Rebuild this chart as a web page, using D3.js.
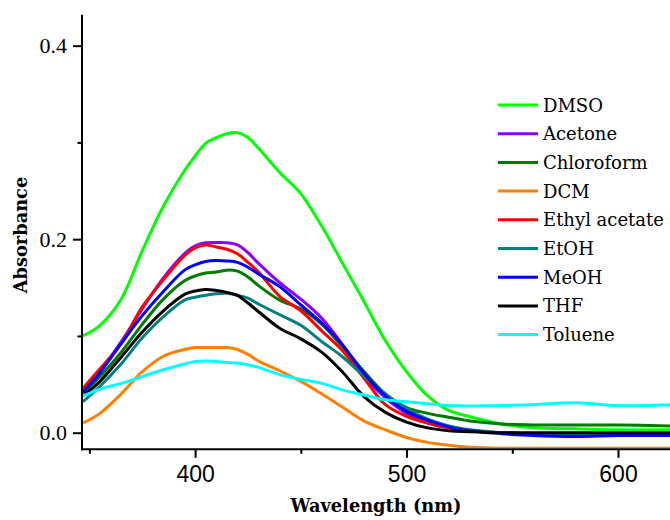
<!DOCTYPE html>
<html>
<head>
<meta charset="utf-8">
<script src="https://cdn.jsdelivr.net/npm/d3@7/dist/d3.min.js"></script>
<style>
  html, body { margin: 0; padding: 0; background: #fff; }
  svg { display: block; }
</style>
</head>
<body>
<svg id="chart" width="670" height="520"></svg>
<script>
// ---- Data ----
const wavelengths = [347, 355, 365, 375, 385, 395, 400, 405, 410, 415, 420, 425, 430, 440, 450, 460, 470, 480, 490, 500, 510, 520, 530, 545, 560, 580, 600, 625];

const solvents = ["DMSO", "Acetone", "Chloroform", "DCM", "Ethyl acetate", "EtOH", "MeOH", "THF", "Toluene"];
const colors   = ["#00ff00", "#8a00ff", "#007a00", "#ff8000", "#ff0000", "#008080", "#0000ff", "#000000", "#00ffff"];

const dmso       = [0.100, 0.111, 0.138, 0.188, 0.234, 0.271, 0.286, 0.299, 0.305, 0.309, 0.310, 0.305, 0.294, 0.269, 0.247, 0.213, 0.174, 0.135, 0.095, 0.063, 0.038, 0.023, 0.0165, 0.009, 0.005, 0.004, 0.003, 0.003];
const acetone    = [0.043, 0.063, 0.094, 0.128, 0.160, 0.185, 0.193, 0.1962, 0.1965, 0.1963, 0.194, 0.186, 0.175, 0.155, 0.138, 0.118, 0.090, 0.058, 0.036, 0.020, 0.010, 0.005, 0.002, 0.000, -0.001, -0.002, -0.002, -0.002];
const chloroform = [0.041, 0.058, 0.083, 0.112, 0.138, 0.157, 0.162, 0.165, 0.166, 0.168, 0.167, 0.161, 0.152, 0.137, 0.128, 0.112, 0.088, 0.063, 0.040, 0.026, 0.020, 0.016, 0.012, 0.009, 0.008, 0.008, 0.008, 0.007];
const dcm        = [0.010, 0.020, 0.040, 0.063, 0.079, 0.086, 0.088, 0.088, 0.088, 0.088, 0.086, 0.081, 0.074, 0.064, 0.053, 0.040, 0.026, 0.012, 0.003, -0.005, -0.010, -0.013, -0.015, -0.016, -0.016, -0.016, -0.016, -0.016];
const ethylAcetate = [0.046, 0.066, 0.092, 0.130, 0.158, 0.183, 0.191, 0.194, 0.192, 0.1896, 0.185, 0.176, 0.166, 0.141, 0.126, 0.105, 0.084, 0.056, 0.029, 0.017, 0.010, 0.005, 0.002, 0.000, -0.001, -0.001, -0.001, -0.001];
const etoh       = [0.032, 0.048, 0.071, 0.098, 0.120, 0.137, 0.140, 0.142, 0.1435, 0.144, 0.142, 0.139, 0.133, 0.122, 0.111, 0.094, 0.078, 0.058, 0.040, 0.025, 0.014, 0.007, 0.003, 0.000, -0.001, -0.001, -0.001, -0.001];
const meoh       = [0.042, 0.062, 0.092, 0.121, 0.146, 0.168, 0.1735, 0.177, 0.178, 0.1775, 0.176, 0.171, 0.164, 0.151, 0.132, 0.113, 0.090, 0.061, 0.038, 0.022, 0.013, 0.006, 0.002, -0.001, -0.003, -0.004, -0.003, -0.003];
const thf        = [0.038, 0.053, 0.078, 0.104, 0.126, 0.143, 0.1465, 0.148, 0.147, 0.145, 0.142, 0.134, 0.125, 0.108, 0.097, 0.083, 0.062, 0.037, 0.021, 0.011, 0.005, 0.002, 0.001, 0.000, 0.000, 0.000, 0.000, 0.000];
const toluene    = [0.038, 0.045, 0.051, 0.058, 0.065, 0.071, 0.0735, 0.074, 0.0735, 0.0725, 0.072, 0.070, 0.0675, 0.060, 0.055, 0.051, 0.044, 0.039, 0.034, 0.032, 0.030, 0.028, 0.0276, 0.028, 0.029, 0.031, 0.028, 0.029];

const seriesValues = [dmso, acetone, chloroform, dcm, ethylAcetate, etoh, meoh, thf, toluene];

const xMajorTicks = [400, 500, 600];
const xMinorTicks = [350, 450, 550];
const yMajorTicks = [0.0, 0.2, 0.4];
const yMinorTicks = [0.1, 0.3];
const yTickLabels = ["0.0", "0.2", "0.4"];

// ---- Layout ----
const svg = d3.select("#chart");
const plotLeft = 82, plotRight = 670, plotTop = 14.7, plotBottom = 449.3;

const x = d3.scaleLinear().domain([346.5, 624.6]).range([plotLeft, plotRight]);
const y = d3.scaleLinear().domain([-0.01716, 0.432]).range([plotBottom, plotTop]);

svg.append("defs").append("clipPath").attr("id", "plotclip")
  .append("rect").attr("x", plotLeft + 1).attr("y", plotTop).attr("width", plotRight - plotLeft).attr("height", plotBottom - plotTop - 1);

// ---- Lines ----
const line = d3.line()
  .x((d, i) => x(wavelengths[i]))
  .y(d => y(d))
  .curve(d3.curveCatmullRom.alpha(0.5));

const plot = svg.append("g").attr("clip-path", "url(#plotclip)");
seriesValues.forEach((vals, k) => {
  plot.append("path")
    .datum(vals)
    .attr("fill", "none")
    .attr("stroke", colors[k])
    .attr("stroke-width", 3)
    .attr("stroke-linejoin", "round")
    .attr("d", line);
});

// ---- Axes ----
const xAxisMajor = d3.axisBottom(x).tickValues(xMajorTicks).tickSize(8.5).tickPadding(8).tickFormat(d3.format("d"));
const xAxisMinor = d3.axisBottom(x).tickValues(xMinorTicks).tickSize(4.5).tickFormat("");
const yAxisMajor = d3.axisLeft(y).tickValues(yMajorTicks).tickSize(9).tickPadding(6).tickFormat((d, i) => yTickLabels[i]);
const yAxisMinor = d3.axisLeft(y).tickValues(yMinorTicks).tickSize(4.5).tickFormat("");

function styleAxis(g) {
  g.select(".domain").remove();
  g.selectAll(".tick line").attr("stroke", "#000").attr("stroke-width", 2);
}

const gx = svg.append("g").attr("transform", `translate(0,${plotBottom})`);
gx.append("g").call(xAxisMajor).call(styleAxis)
  .selectAll("text").attr("font-family", "'Liberation Sans', Arial, sans-serif").attr("font-size", 23).attr("fill", "#000");
gx.append("g").call(xAxisMinor).call(styleAxis);

const gy = svg.append("g").attr("transform", `translate(${plotLeft},0)`);
gy.append("g").call(yAxisMajor).call(styleAxis)
  .selectAll("text").attr("font-family", "'Liberation Serif', 'Times New Roman', serif").attr("font-size", 22).attr("fill", "#000");
gy.append("g").call(yAxisMinor).call(styleAxis);

// axis lines
svg.append("line").attr("x1", plotLeft).attr("x2", plotLeft).attr("y1", plotTop).attr("y2", plotBottom + 1)
  .attr("stroke", "#000").attr("stroke-width", 2);
svg.append("line").attr("x1", plotLeft - 1).attr("x2", plotRight).attr("y1", plotBottom).attr("y2", plotBottom)
  .attr("stroke", "#000").attr("stroke-width", 2);

// ---- Axis titles ----
svg.append("text")
  .attr("x", 376).attr("y", 512)
  .attr("text-anchor", "middle")
  .attr("font-family", "'DejaVu Serif', serif").attr("font-weight", "bold").attr("font-size", 17.8)
  .text("Wavelength (nm)");

svg.append("text")
  .attr("transform", "translate(27,235) rotate(-90)")
  .attr("text-anchor", "middle")
  .attr("font-family", "'DejaVu Serif', serif").attr("font-weight", "bold").attr("font-size", 17.8)
  .text("Absorbance");

// ---- Legend ----
const legend = svg.append("g");
const legY0 = 105, legStep = 28.7;
solvents.forEach((name, k) => {
  const yy = legY0 + k * legStep;
  legend.append("line").attr("x1", 498).attr("x2", 538).attr("y1", yy).attr("y2", yy)
    .attr("stroke", colors[k]).attr("stroke-width", 3);
  legend.append("text").attr("x", 543).attr("y", yy + 6.5)
    .attr("font-family", "'DejaVu Serif', serif").attr("font-size", 18)
    .attr("fill", "#000")
    .text(name);
});
</script>
</body>
</html>
